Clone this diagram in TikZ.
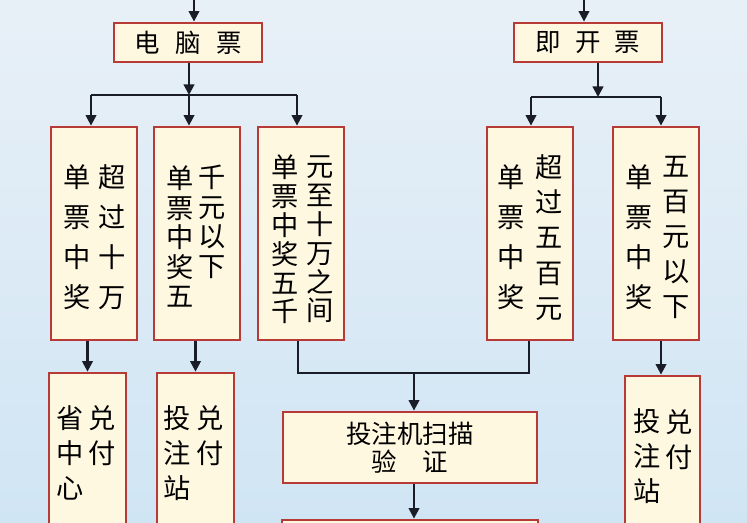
\documentclass[tikz,border=0pt]{standalone}
\usepackage{fontspec}
\newfontfamily\cjk{Noto Sans CJK SC}
\usepackage{tikz}
\usetikzlibrary{arrows.meta, positioning, calc}
\definecolor{boxred}{HTML}{B83A36}
\definecolor{boxfill}{HTML}{FFF8E1}
\definecolor{lineblk}{HTML}{1A1D28}
\definecolor{bgtop}{HTML}{E8F0F7}
\definecolor{bgbot}{HTML}{D0E5F4}

\begin{document}
\begin{tikzpicture}[x=0.02cm, y=-0.02cm,
  box/.style={draw=boxred, fill=boxfill, line width=1.6pt, inner sep=0pt, font=\cjk\fontsize{14.5pt}{16pt}\selectfont, align=center},
  arr/.style={draw=lineblk, line width=1.25pt, -{Triangle[length=6pt,width=6pt]}},
  conn/.style={draw=lineblk, line width=1.25pt},
  col/.style={align=center, inner sep=0pt, font=\cjk\fontsize{15.5pt}{#1}\selectfont}]
  \useasboundingbox (0,0) rectangle (747,523);
  \clip (0,0) rectangle (747,523);
  \shade[top color=bgtop, bottom color=bgbot] (0,0) rectangle (747,523);

  % Ticket kinds
  \node[box, minimum width=2.96cm, minimum height=0.78cm] (pc) at (188,42.5) {电\hspace{0.6em}脑\hspace{0.6em}票};
  \node[box, minimum width=2.96cm, minimum height=0.78cm] (ik) at (588,42.5) {即\hspace{0.55em}开\hspace{0.55em}票};

  % Prize levels
  \node[box, minimum width=1.72cm, minimum height=4.26cm] (b1) at (94,233.5) {};
  \node[box, minimum width=1.72cm, minimum height=4.26cm] (b2) at (197,233.5) {};
  \node[box, minimum width=1.72cm, minimum height=4.26cm] (b3) at (301,233.5) {};
  \node[box, minimum width=1.72cm, minimum height=4.26cm] (b4) at (530,233.5) {};
  \node[box, minimum width=1.72cm, minimum height=4.26cm] (b5) at (656,233.5) {};

  \node[col=22.7pt] (b1r) at (112,237.5) {超\\过\\十\\万};
  \node[col=22.7pt] (b1l) at (77,237.5) {单\\票\\中\\奖};
  \node[col=16.8pt] (b2r) at (212,222) {千\\元\\以\\下};
  \node[col=16.8pt] (b2l) at (180,236.5) {单\\票\\中\\奖\\五};
  \node[col=16.4pt] (b3r) at (320,239.5) {元\\至\\十\\万\\之\\间};
  \node[col=16.4pt] (b3l) at (285,239.5) {单\\票\\中\\奖\\五\\千};
  \node[col=20pt] (b4r) at (549,237.5) {超\\过\\五\\百\\元};
  \node[col=22.7pt] (b4l) at (511,237.5) {单\\票\\中\\奖};
  \node[col=20pt] (b5r) at (676,237.5) {五\\百\\元\\以\\下};
  \node[col=22.7pt] (b5l) at (639,237.5) {单\\票\\中\\奖};

  % Where to cash
  \node[box, minimum width=1.54cm, minimum height=3.8cm] (c1) at (87.5,468) {};
  \node[box, minimum width=1.54cm, minimum height=3.8cm] (c2) at (195.5,468) {};
  \node[box, minimum width=1.5cm, minimum height=3.8cm] (c3) at (662.5,471) {};
  \node[box, minimum width=5.08cm, minimum height=1.42cm] (scan) at (410,447.5) {投注机扫描\\验\hspace{1em}证};
  \node[box, minimum width=5.12cm, minimum height=1.4cm] (last) at (410,555) {};

  \node[col=19.8pt] (c1r) at (102,435.5) {兑\\付};
  \node[col=19.8pt] (c1l) at (70,453) {省\\中\\心};
  \node[col=19.8pt] (c2r) at (210,435.5) {兑\\付};
  \node[col=19.8pt] (c2l) at (177,453) {投\\注\\站};
  \node[col=19.8pt] (c3r) at (679,439.5) {兑\\付};
  \node[col=19.8pt] (c3l) at (647,456) {投\\注\\站};

  % Connectors
  \coordinate (in1) at (194,0);
  \coordinate (in2) at (584,0);
  \draw[arr] (in1) -- (in1 |- pc.north);
  \draw[arr] (in2) -- (in2 |- ik.north);

  \coordinate (pcbar) at (189,95);
  \coordinate (t1) at (91,95);
  \coordinate (t3) at (297,95);
  \draw[arr] (pcbar |- pc.south) -- (pcbar);
  \draw[conn] (t1) -- (t3);
  \draw[arr] (t1) -- (t1 |- b1.north);
  \draw[arr] (pcbar) -- (pcbar |- b2.north);
  \draw[arr] (t3) -- (t3 |- b3.north);

  \coordinate (ikbar) at (598,97);
  \coordinate (t4) at (531,97);
  \coordinate (t5) at (661,97);
  \draw[arr] (ikbar |- ik.south) -- (ikbar);
  \draw[conn] (t4) -- (t5);
  \draw[arr] (t4) -- (t4 |- b4.north);
  \draw[arr] (t5) -- (t5 |- b5.north);

  \draw[arr] (c1.north |- b1.south) -- (c1.north);
  \draw[arr] (c2.north |- b2.south) -- (c2.north);
  \draw[arr] (t5 |- b5.south) -- (t5 |- c3.north);

  \coordinate (m3) at (298,373);
  \coordinate (m4) at (529,373);
  \coordinate (mid) at (414,373);
  \draw[conn] (m3 |- b3.south) -- (m3) -- (m4) -- (m4 |- b4.south);
  \draw[arr] (mid) -- (mid |- scan.north);
  \draw[arr] (mid |- scan.south) -- (mid |- last.north);
\end{tikzpicture}
\end{document}
